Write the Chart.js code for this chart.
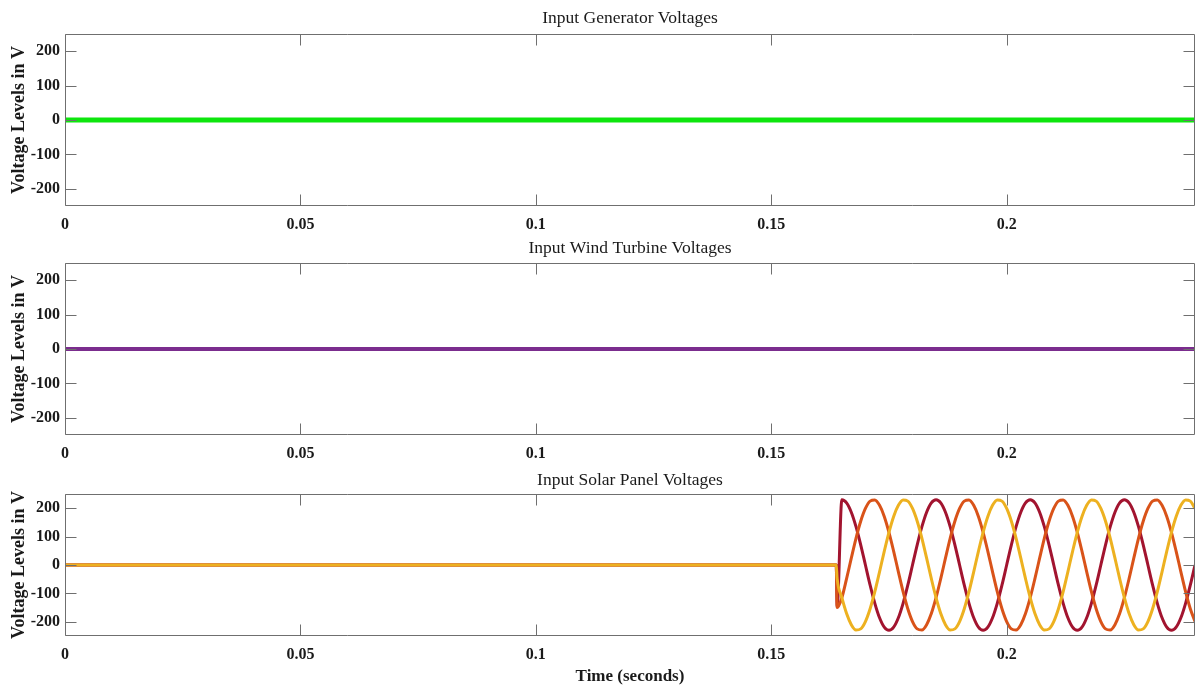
<!DOCTYPE html>
<html>
<head>
<meta charset="utf-8">
<title>Input Voltages</title>
<script src="https://cdn.jsdelivr.net/npm/chart.js@4.4.1/dist/chart.umd.min.js"></script>
<style>
    html, body { margin: 0; padding: 0; background: #ffffff; }
    #wrap { position: relative; width: 1203px; height: 689px; }
    canvas { position: absolute; left: 0; }
</style>
</head>
<body>
<div id="wrap">
    <canvas id="genChart" width="1203" height="235" style="top:0px"></canvas>
    <canvas id="windChart" width="1203" height="235" style="top:235px"></canvas>
    <canvas id="solarChart" width="1203" height="219" style="top:470px"></canvas>
</div>
<script>

// generator and wind turbine stay at zero for the whole run
const flatTime = [0, 0.24];
const genVoltage = [0, 0];
const windVoltage = [0, 0];

// solar panel phases switch in at about 0.164 s
const solarTime = [0, 0.1638, 0.164,
    0.165, 0.166, 0.167, 0.168, 0.169, 0.170, 0.171, 0.172, 0.173, 0.174,
    0.175, 0.176, 0.177, 0.178, 0.179, 0.180, 0.181, 0.182, 0.183, 0.184,
    0.185, 0.186, 0.187, 0.188, 0.189, 0.190, 0.191, 0.192, 0.193, 0.194,
    0.195, 0.196, 0.197, 0.198, 0.199, 0.200, 0.201, 0.202, 0.203, 0.204,
    0.205, 0.206, 0.207, 0.208, 0.209, 0.210, 0.211, 0.212, 0.213, 0.214,
    0.215, 0.216, 0.217, 0.218, 0.219, 0.220, 0.221, 0.222, 0.223, 0.224,
    0.225, 0.226, 0.227, 0.228, 0.229, 0.230, 0.231, 0.232, 0.233, 0.234,
    0.235, 0.236, 0.237, 0.238, 0.239, 0.240];

const solarPhaseA = [0, 0, -145,
    230, 219, 186, 135, 71, 0, -71, -135, -186, -219,
    -230, -219, -186, -135, -71, 0, 71, 135, 186, 219,
    230, 219, 186, 135, 71, 0, -71, -135, -186, -219,
    -230, -219, -186, -135, -71, 0, 71, 135, 186, 219,
    230, 219, 186, 135, 71, 0, -71, -135, -186, -219,
    -230, -219, -186, -135, -71, 0, 71, 135, 186, 219,
    230, 219, 186, 135, 71, 0, -71, -135, -186, -219,
    -230, -219, -186, -135, -71, 0];

const solarPhaseB = [0, 0, -150,
    -115, -48, 24, 94, 154, 199, 225, 229, 210, 171,
    115, 48, -24, -94, -154, -199, -225, -229, -210, -171,
    -115, -48, 24, 94, 154, 199, 225, 229, 210, 171,
    115, 48, -24, -94, -154, -199, -225, -229, -210, -171,
    -115, -48, 24, 94, 154, 199, 225, 229, 210, 171,
    115, 48, -24, -94, -154, -199, -225, -229, -210, -171,
    -115, -48, 24, 94, 154, 199, 225, 229, 210, 171,
    115, 48, -24, -94, -154, -199];

const solarPhaseC = [0, 0, -48,
    -115, -171, -210, -229, -225, -199, -154, -94, -24, 48,
    115, 171, 210, 229, 225, 199, 154, 94, 24, -48,
    -115, -171, -210, -229, -225, -199, -154, -94, -24, 48,
    115, 171, 210, 229, 225, 199, 154, 94, 24, -48,
    -115, -171, -210, -229, -225, -199, -154, -94, -24, 48,
    115, 171, 210, 229, 225, 199, 154, 94, 24, -48,
    -115, -171, -210, -229, -225, -199, -154, -94, -24, 48,
    115, 171, 210, 229, 225, 199];

const xTicks = [0, 0.05, 0.1, 0.15, 0.2];
const yTicks = [-200, -100, 0, 100, 200];

const serif = "'Liberation Serif', 'Times New Roman', serif";

Chart.defaults.font.family = serif;
Chart.defaults.color = "#1a1a1a";

// pair up time and value arrays into points
function toPoints(times, values) {
    return times.map((t, i) => ({ x: t, y: values[i] }));
}

// box round the plot area with ticks pointing inwards on every side
const boxTicks = {
    id: "boxTicks",
    afterDatasetsDraw(chart) {
        const { ctx, chartArea: a, scales: { x, y } } = chart;
        const left = Math.round(a.left) + 0.5;
        const right = Math.round(a.right) - 0.5;
        const top = Math.round(a.top) + 0.5;
        const bottom = Math.round(a.bottom) - 0.5;
        const len = 11;

        ctx.save();
        ctx.strokeStyle = "#6f6f6f";
        ctx.lineWidth = 1;
        ctx.beginPath();
        xTicks.forEach(v => {
            const px = Math.round(x.getPixelForValue(v)) + 0.5;
            ctx.moveTo(px, bottom);
            ctx.lineTo(px, bottom - len);
            ctx.moveTo(px, top);
            ctx.lineTo(px, top + len);
        });
        yTicks.forEach(v => {
            const py = Math.round(y.getPixelForValue(v)) + 0.5;
            ctx.moveTo(left, py);
            ctx.lineTo(left + len, py);
            ctx.moveTo(right, py);
            ctx.lineTo(right - len, py);
        });
        ctx.rect(left, top, right - left, bottom - top);
        ctx.stroke();
        ctx.restore();
    }
};

// shared options for one panel
function panelOptions(title, titlePad, xHeight, showTimeTitle) {
    return {
        responsive: false,
        animation: false,
        layout: { padding: { left: 0, right: 8, top: 0, bottom: 0 } },
        plugins: {
            legend: { display: false },
            tooltip: { enabled: false },
            title: {
                display: true,
                text: title,
                fullSize: false,
                color: "#1a1a1a",
                font: { size: 17.5, weight: "normal", family: serif },
                padding: titlePad
            }
        },
        elements: { point: { radius: 0 } },
        scales: {
            x: {
                type: "linear",
                min: 0,
                max: 0.24,
                grid: { display: false, drawTicks: false },
                border: { display: false },
                afterBuildTicks: s => { s.ticks = xTicks.map(v => ({ value: v })); },
                afterFit: s => { s.height = xHeight; },
                ticks: {
                    padding: 9,
                    maxRotation: 0,
                    color: "#1a1a1a",
                    font: { size: 16, weight: "bold", family: serif },
                    callback: v => String(+v.toFixed(2))
                },
                title: {
                    display: showTimeTitle,
                    text: "Time (seconds)",
                    color: "#1a1a1a",
                    font: { size: 17, weight: "bold", family: serif },
                    padding: { top: 0, bottom: 2 }
                }
            },
            y: {
                min: -250,
                max: 250,
                grid: { display: false, drawTicks: false },
                border: { display: false },
                afterBuildTicks: s => { s.ticks = yTicks.map(v => ({ value: v })); },
                afterFit: s => { s.width = 65; },
                ticks: {
                    padding: 5,
                    color: "#1a1a1a",
                    font: { size: 16, weight: "bold", family: serif },
                    callback: v => String(v)
                },
                title: {
                    display: true,
                    text: "Voltage Levels in V",
                    color: "#1a1a1a",
                    font: { size: 18, weight: "bold", family: serif },
                    padding: { top: 9, bottom: 0 }
                }
            }
        }
    };
}

// generator panel
new Chart(document.getElementById("genChart"), {
    type: "line",
    data: {
        datasets: [{
            data: toPoints(flatTime, genVoltage),
            borderColor: "#0ee60e",
            borderWidth: 5
        }]
    },
    options: panelOptions("Input Generator Voltages", { top: 8, bottom: 5 }, 29, false),
    plugins: [boxTicks]
});

// wind turbine panel
new Chart(document.getElementById("windChart"), {
    type: "line",
    data: {
        datasets: [{
            data: toPoints(flatTime, windVoltage),
            borderColor: "#7b2d8e",
            borderWidth: 4
        }]
    },
    options: panelOptions("Input Wind Turbine Voltages", { top: 3, bottom: 4 }, 35, false),
    plugins: [boxTicks]
});

// solar panel, first dataset is drawn on top
new Chart(document.getElementById("solarChart"), {
    type: "line",
    data: {
        datasets: [{
            data: toPoints(solarTime, solarPhaseC),
            borderColor: "#edb120",
            borderWidth: 3,
            cubicInterpolationMode: "monotone"
        }, {
            data: toPoints(solarTime, solarPhaseB),
            borderColor: "#d95319",
            borderWidth: 3,
            cubicInterpolationMode: "monotone"
        }, {
            data: toPoints(solarTime, solarPhaseA),
            borderColor: "#a2142f",
            borderWidth: 3,
            cubicInterpolationMode: "monotone"
        }]
    },
    options: panelOptions("Input Solar Panel Voltages", { top: 0, bottom: 3 }, 53, true),
    plugins: [boxTicks]
});

</script>
</body>
</html>
